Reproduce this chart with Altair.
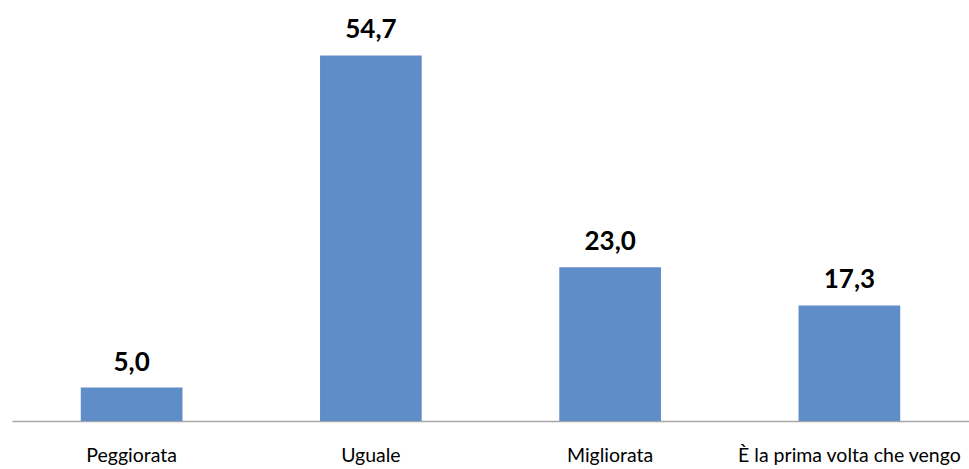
import altair as alt
import pandas as pd

categories = ["Peggiorata", "Uguale", "Migliorata", "È la prima volta che vengo"]
values = [5.0, 54.7, 23.0, 17.3]
labels = ["5,0", "54,7", "23,0", "17,3"]

df = pd.DataFrame({"cat": categories, "val": values, "lab": labels})

x = alt.X("cat:N", sort=categories, title=None,
          scale=alt.Scale(paddingInner=0.575, paddingOuter=0.2875),
          axis=alt.Axis(labelAngle=0, ticks=False, domain=True, domainColor="#A6A6A6",
                        domainWidth=1.5, labelFont="Lato", labelFontSize=19.5,
                        labelColor="#000000", labelPadding=34, labelBaseline="middle",
                        labelLimit=0))
y = alt.Y("val:Q", title=None, scale=alt.Scale(domain=[0, 60], nice=False), axis=None)

bars = alt.Chart(df).mark_bar(color="#5F8DC8").encode(x=x, y=y)
text = alt.Chart(df).mark_text(font="Lato", fontSize=26, fontWeight="bold", color="#000000",
                               baseline="alphabetic", dy=-17).encode(x=x, y=y, text="lab:N")

chart = (bars + text).properties(
    width=957, height=401,
    background="#FFFFFF",
    autosize=alt.AutoSizeParams(type="none"),
    padding={"left": 12, "top": 20, "right": 0, "bottom": 48},
).configure_view(stroke=None)

chart.save("out.html", embed_options={"renderer": "svg", "actions": False})
